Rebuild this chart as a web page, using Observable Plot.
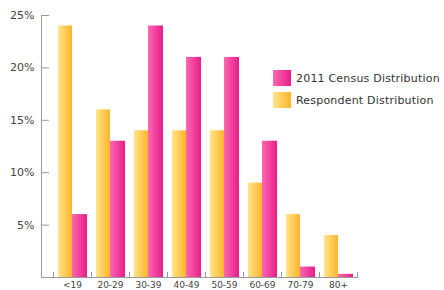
<!DOCTYPE html>
<html>
<head>
<meta charset="utf-8">
<script src="https://cdn.jsdelivr.net/npm/d3@7"></script>
<script src="https://cdn.jsdelivr.net/npm/@observablehq/plot@0.6"></script>
<style>
  body { margin: 0; background: #fff; }
  #wrap { position: relative; width: 444px; height: 290px; overflow: hidden; }
  .legend { position: absolute; left: 273px; top: 70px; font-family: "DejaVu Sans", sans-serif; font-size: 11px; letter-spacing: 0.2px; color: #333; }
  .legend .item { display: flex; align-items: center; height: 16px; margin-bottom: 6px; white-space: nowrap; }
  .legend .sw { width: 18px; height: 16px; margin-right: 5px; flex: none; }
</style>
</head>
<body>
<div id="wrap">
  <div id="chart"></div>
  <div class="legend" id="legend"></div>
</div>
<script>
const categories = ["<19", "20-29", "30-39", "40-49", "50-59", "60-69", "70-79", "80+"];
const respondent = [24, 16, 14, 14, 14, 9, 6, 4];
const census = [6, 13, 24, 21, 21, 13, 1, 0.3];
const yTicks = [5, 10, 15, 20, 25];
const seriesNames = ["2011 Census Distribution", "Respondent Distribution"];
const seriesColors = [["#fa68b1", "#e81d8a"], ["#ffe58a", "#fdb42a"]];

const data = categories.map((c, i) => ({cat: c, respondent: respondent[i], census: census[i]}));

const plot = Plot.plot({
  width: 444,
  height: 290,
  marginLeft: 41,
  marginRight: 87,
  marginTop: 15,
  marginBottom: 13,
  style: {fontFamily: "DejaVu Sans, sans-serif", fontSize: "10px", color: "#444", background: "white"},
  x: {domain: categories, paddingInner: 0, paddingOuter: 0.15, align: 1, label: null},
  y: {domain: [0, 25], label: null},
  marks: [
    Plot.barY(data, {x: "cat", y: "respondent", fill: "url(#gradO)", insetLeft: 5, insetRight: 19}),
    Plot.barY(data, {x: "cat", y: "census", fill: "url(#gradP)", insetLeft: 19, insetRight: 4}),
    Plot.frame({anchor: "left", stroke: "#999"}),
    Plot.frame({anchor: "bottom", stroke: "#999"}),
    Plot.ruleX(categories, {x: d => d, dx: -19, insetTop: 257, stroke: "#999"}),
    Plot.ruleX(categories.slice(-1), {x: d => d, dx: 19, insetTop: 257, stroke: "#999"}),
    Plot.axisY({ticks: yTicks, tickSize: -8, tickPadding: 15, tickFormat: d => d + "%", stroke: "#999", fill: "#444", fontSize: 11, label: null}),
    Plot.axisX({tickSize: 0, tickPadding: 4, fill: "#444", fontSize: 9, label: null})
  ]
});

const defs = d3.select(plot).insert("defs", ":first-child");
[["gradP", seriesColors[0]], ["gradO", seriesColors[1]]].forEach(([id, [c0, c1]]) => {
  const g = defs.append("linearGradient").attr("id", id).attr("x1", "0").attr("x2", "1").attr("y1", "0").attr("y2", "0");
  g.append("stop").attr("offset", "0%").attr("stop-color", c0);
  g.append("stop").attr("offset", "100%").attr("stop-color", c1);
});

document.getElementById("chart").appendChild(plot);

const legend = document.getElementById("legend");
seriesNames.forEach((name, i) => {
  const item = document.createElement("div");
  item.className = "item";
  const sw = document.createElement("div");
  sw.className = "sw";
  sw.style.background = `linear-gradient(to right, ${seriesColors[i][0]}, ${seriesColors[i][1]})`;
  const t = document.createElement("span");
  t.textContent = name;
  item.appendChild(sw);
  item.appendChild(t);
  legend.appendChild(item);
});
</script>
</body>
</html>
